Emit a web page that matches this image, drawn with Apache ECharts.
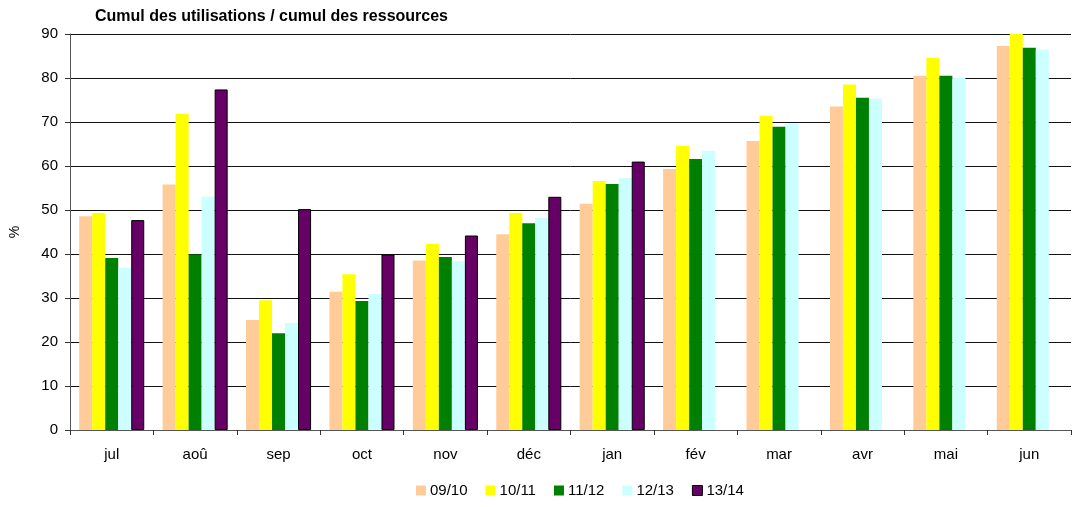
<!DOCTYPE html>
<html><head><meta charset="utf-8">
<script src="https://cdn.jsdelivr.net/npm/echarts@6/dist/echarts.min.js"></script>
<style>html,body{margin:0;padding:0;background:#fff}#c{width:1074px;height:507px}</style>
</head><body><div id="c"></div>
<script>
const categories = ['jul','aoû','sep','oct','nov','déc','jan','fév','mar','avr','mai','jun'];
const s0910 = [48.6, 55.8, 25.0, 31.4, 38.5, 44.5, 51.4, 59.3, 65.7, 73.5, 80.5, 87.3];
const s1011 = [49.3, 71.9, 29.5, 35.4, 42.3, 49.3, 56.6, 64.6, 71.4, 78.5, 84.6, 90.0];
const s1112 = [39.1, 39.9, 22.0, 29.3, 39.3, 47.0, 55.9, 61.6, 68.9, 75.5, 80.5, 86.9];
const s1213 = [36.9, 53.0, 24.3, 30.9, 38.4, 48.2, 57.3, 63.4, 69.7, 75.3, 80.0, 86.4];
const s1314 = [47.7, 77.4, 50.2, 39.9, 44.2, 53.0, 61.0, null, null, null, null, null];
const seriesNames = ['09/10','10/11','11/12','12/13','13/14'];
const yTicks = [0,10,20,30,40,50,60,70,80,90];

const colors = ['#FFCC99','#FFFF00','#008000','#CCFFFF','#660066'];
const data = [s0910,s1011,s1112,s1213,s1314];
const font = 'Liberation Sans, Arial, sans-serif';

const chart = echarts.init(document.getElementById('c'));
chart.setOption({
  animation:false,
  title:{text:'Cumul des utilisations / cumul des ressources',left:90,top:4,
    textStyle:{fontFamily:font,fontSize:16,fontWeight:'bold',color:'#000'}},
  legend:{bottom:4,left:411,itemWidth:10,itemHeight:10,itemGap:18,icon:'rect',
    textStyle:{fontFamily:font,fontSize:15,color:'#000',padding:[0,0,0,-1]},
    data:seriesNames.map((n,i)=>({name:n,itemStyle: i===4?{borderColor:'#000',borderWidth:1}:{}}))},
  grid:{left:68,right:3,top:34,bottom:77},
  xAxis:{type:'category',data:categories,
    axisLine:{lineStyle:{color:'#555',width:1}},
    axisTick:{show:true,alignWithLabel:false,length:5,lineStyle:{color:'#333'}},
    axisLabel:{fontFamily:font,fontSize:15,color:'#000',margin:17}},
  yAxis:{type:'value',min:0,max:90,interval:10,name:'%',nameLocation:'middle',nameGap:48,nameRotate:90,
    nameTextStyle:{fontFamily:font,fontSize:14,color:'#000'},
    axisLine:{show:true,lineStyle:{color:'#555'}},
    axisTick:{show:true,length:5,lineStyle:{color:'#333'}},
    axisLabel:{fontFamily:font,fontSize:15,color:'#000',margin:12,
      formatter:v=>yTicks.includes(v)?String(v):''},
    splitLine:{lineStyle:{color:'#111',width:1}}},
  series:data.map((d,i)=>({name:seriesNames[i],type:'bar',data:d,barGap:'0%',barCategoryGap:'22%',
    itemStyle:{color:colors[i],borderColor:i===4?'#000':undefined,borderWidth:i===4?1:0}}))
});
</script></body></html>
